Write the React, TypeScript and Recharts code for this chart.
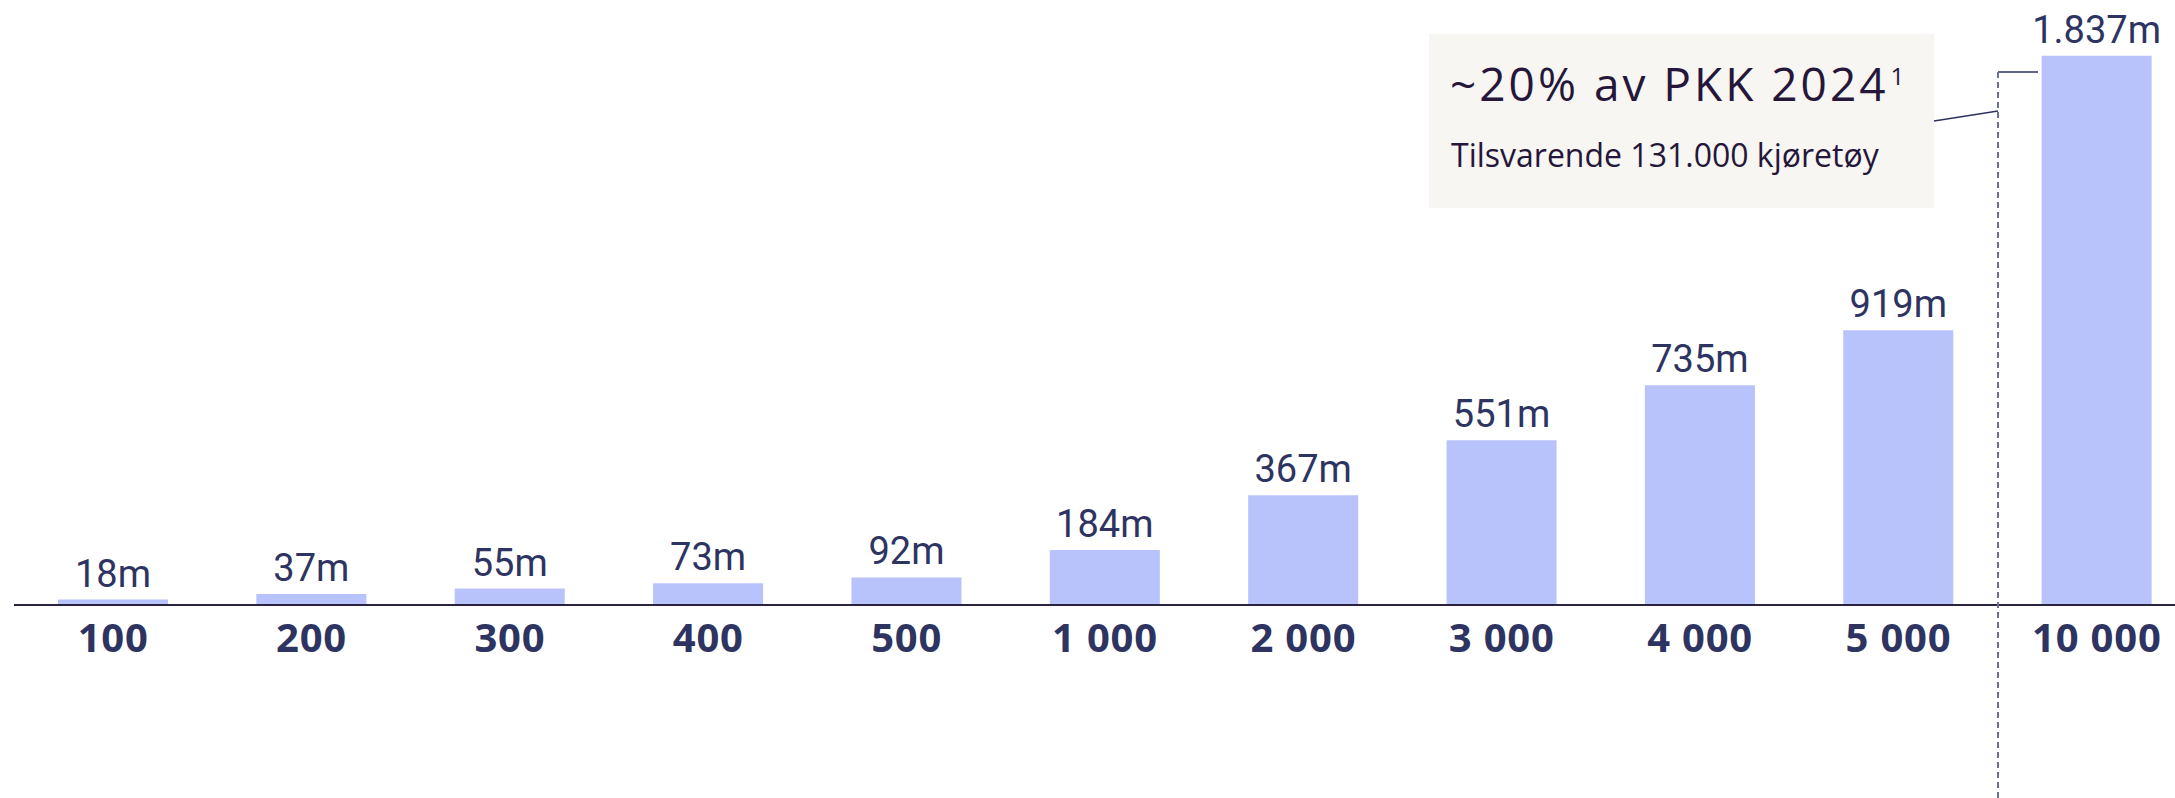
import React from 'react';
import { BarChart, Bar, XAxis, YAxis, LabelList } from 'recharts';

const categories = ['100', '200', '300', '400', '500', '1 000', '2 000', '3 000', '4 000', '5 000', '10 000'];
const values = [18, 37, 55, 73, 92, 184, 367, 551, 735, 919, 1837];
const valueLabels = ['18m', '37m', '55m', '73m', '92m', '184m', '367m', '551m', '735m', '919m', '1.837m'];

const annotationTitle = '~20% av PKK 2024';
const annotationSup = '1';
const annotationSub = 'Tilsvarende 131.000 kjøretøy';

const data = categories.map((name, i) => ({ name, value: values[i], label: valueLabels[i] }));

const NAVY = '#2e3461';
const BAR = '#b8c2fb';
const DARK = '#26163a';

const Tick = (props: any) => {
  const { x, y, payload } = props;
  return (
    <text x={x} y={y + 47} textAnchor="middle" fill={NAVY}
      style={{ fontFamily: '"Open Sans", sans-serif', fontWeight: 700, fontSize: 40, letterSpacing: 0.8 }}>
      {payload.value}
    </text>
  );
};

const ValueLabel = (props: any) => {
  const { x, y, width, index } = props;
  return (
    <text x={x + width / 2} y={y - 13} textAnchor="middle" fill={NAVY}
      style={{ fontFamily: 'Roboto, sans-serif', fontWeight: 400, fontSize: 38 }}>
      {valueLabels[index]}
    </text>
  );
};

export default function App() {
  return (
    <div style={{ position: 'absolute', left: 0, top: 0, width: 2175, height: 798, overflow: 'hidden', background: '#fff' }}>
      <BarChart width={2200} height={798} data={data}
        margin={{ top: 7, right: 4, left: 14, bottom: 0 }}>
        <XAxis dataKey="name" height={193} tickLine={false} tickSize={0} tickMargin={0}
          axisLine={{ stroke: '#2b2240', strokeWidth: 2 }} tick={<Tick />} interval={0} />
        <YAxis hide domain={[0, 2000]} />
        <Bar dataKey="value" fill={BAR} barSize={110} isAnimationActive={false}>
          <LabelList dataKey="value" content={<ValueLabel />} />
        </Bar>
      </BarChart>
      <svg width={2175} height={798} style={{ position: 'absolute', left: 0, top: 0, pointerEvents: 'none' }}>
        <rect x={1429} y={34} width={505} height={174} fill="#f7f6f3" />
        <text x={1450} y={101} fill={DARK}
          style={{ fontFamily: '"Open Sans", sans-serif', fontSize: 46, letterSpacing: 3 }}>
          {annotationTitle}
          <tspan dx={2} dy={-16} style={{ fontSize: 24, letterSpacing: 0 }}>{annotationSup}</tspan>
        </text>
        <text x={1451} y={167} fill={DARK}
          style={{ fontFamily: '"Open Sans", sans-serif', fontSize: 32 }}>
          {annotationSub}
        </text>
        <line x1={1934} y1={121} x2={1998} y2={111} stroke={NAVY} strokeWidth={1.5} />
        <line x1={1998} y1={72} x2={2038} y2={72} stroke={NAVY} strokeWidth={1.5} />
        <line x1={1998} y1={72} x2={1998} y2={798} stroke="#6c7192" strokeWidth={2} strokeDasharray="6 4" />
      </svg>
    </div>
  );
}
